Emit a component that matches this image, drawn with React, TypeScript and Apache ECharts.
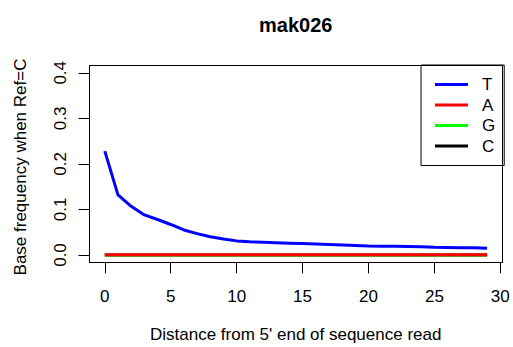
import React, { useEffect, useRef } from "react";
import * as echarts from "echarts";

const positions = [0, 1, 2, 3, 4, 5, 6, 7, 8, 9, 10, 11, 12, 13, 14, 15, 16, 17, 18, 19, 20, 21, 22, 23, 24, 25, 26, 27, 28, 29];
const freqT = [0.228, 0.132, 0.107, 0.088, 0.078, 0.067, 0.055, 0.047, 0.040, 0.035, 0.031, 0.029, 0.028, 0.027, 0.026, 0.025, 0.024, 0.023, 0.022, 0.021, 0.020, 0.0195, 0.019, 0.0185, 0.018, 0.017, 0.0165, 0.016, 0.016, 0.015];
const freqA = [0.0008, 0.0008, 0.0008, 0.0008, 0.0008, 0.0008, 0.0008, 0.0008, 0.0008, 0.0008, 0.0008, 0.0008, 0.0008, 0.0008, 0.0008, 0.0008, 0.0008, 0.0008, 0.0008, 0.0008, 0.0008, 0.0008, 0.0008, 0.0008, 0.0008, 0.0008, 0.0008, 0.0008, 0.0008, 0.0008];
const freqG = [0, 0, 0, 0, 0, 0, 0, 0, 0, 0, 0, 0, 0, 0, 0, 0, 0, 0, 0, 0, 0, 0, 0, 0, 0, 0, 0, 0, 0, 0];
const freqC = [0, 0, 0, 0, 0, 0, 0, 0, 0, 0, 0, 0, 0, 0, 0, 0, 0, 0, 0, 0, 0, 0, 0, 0, 0, 0, 0, 0, 0, 0];
const xTicks = [0, 5, 10, 15, 20, 25, 30];
const yTicks = [0, 0.1, 0.2, 0.3, 0.4];
const xRange = [-1.16, 30.16];
const yRange = [-0.016, 0.416];
const bases = ["T", "A", "G", "C"];
const baseColors = ["#0000FF", "#FF0000", "#00FF00", "#000000"];

const FONT = "'Liberation Sans', Arial, Helvetica, sans-serif";

export default function App() {
  const ref = useRef<HTMLDivElement>(null);
  useEffect(() => {
    if (!ref.current) return;
    const chart = echarts.init(ref.current, null, { renderer: "svg" });
    const values: Record<string, number[]> = { T: freqT, A: freqA, G: freqG, C: freqC };
    const drawOrder = ["C", "G", "A", "T"];
    const series = drawOrder.map((b) => ({
      name: b,
      type: "line",
      data: positions.map((p, i) => [p, values[b][i]]),
      showSymbol: false,
      symbol: "none",
      lineStyle: { width: 3, color: baseColors[bases.indexOf(b)] },
      itemStyle: { color: baseColors[bases.indexOf(b)] },
    }));
    chart.setOption({
      animation: false,
      backgroundColor: "#ffffff",
      grid: { left: 89.5, right: 10.6, top: 65.5, bottom: 84.7 },
      xAxis: {
        type: "value",
        min: xRange[0],
        max: xRange[1],
        axisLine: { show: true, onZero: false, lineStyle: { color: "#000", width: 1 } },
        axisTick: { show: true, inside: false, length: 11, customValues: xTicks, lineStyle: { color: "#000", width: 1 } },
        axisLabel: { inside: false, margin: 26, fontSize: 17, color: "#000", fontFamily: FONT, customValues: xTicks },
        splitLine: { show: false },
      },
      yAxis: {
        type: "value",
        min: yRange[0],
        max: yRange[1],
        axisLine: { show: true, onZero: false, lineStyle: { color: "#000", width: 1 } },
        axisTick: { show: true, inside: false, length: 11, customValues: yTicks, lineStyle: { color: "#000", width: 1 } },
        axisLabel: {
          inside: false,
          rotate: 90,
          margin: 21,
          fontSize: 17,
          color: "#000",
          fontFamily: FONT,
          customValues: yTicks,
          formatter: (v: number) => v.toFixed(1),
        },
        splitLine: { show: false },
      },
      legend: {
        orient: "vertical",
        left: 421,
        top: 65,
        padding: [11, 9, 11, 14],
        itemGap: 3.5,
        itemWidth: 33,
        itemHeight: 3,
        icon: "rect",
        borderColor: "#000",
        borderWidth: 1,
        selectedMode: false,
        data: bases,
        textStyle: { fontSize: 17, lineHeight: 16, padding: [0, 0, 0, 9], fontFamily: FONT, color: "#000" },
      },
      graphic: [
        {
          type: "rect",
          silent: true,
          shape: { x: 89.5, y: 65.5, width: 413, height: 197 },
          style: { fill: "none", stroke: "#000", lineWidth: 1 },
          z: 10,
        },
        {
          type: "text",
          x: 295.7,
          y: 25,
          style: { text: "mak026", font: `bold 20px ${FONT}`, fill: "#000", align: "center", verticalAlign: "middle" },
        },
        {
          type: "text",
          x: 295.7,
          y: 334,
          style: {
            text: "Distance from 5' end of sequence read",
            font: `17px ${FONT}`,
            fill: "#000",
            align: "center",
            verticalAlign: "middle",
          },
        },
        {
          type: "text",
          x: 20,
          y: 167,
          rotation: Math.PI / 2,
          style: {
            text: "Base frequency when Ref=C",
            font: `17px ${FONT}`,
            fill: "#000",
            align: "center",
            verticalAlign: "middle",
          },
        },
      ],
      series,
    });
    return () => chart.dispose();
  }, []);
  return <div ref={ref} style={{ width: 513, height: 347, position: "absolute", left: 0, top: 0 }} />;
}
